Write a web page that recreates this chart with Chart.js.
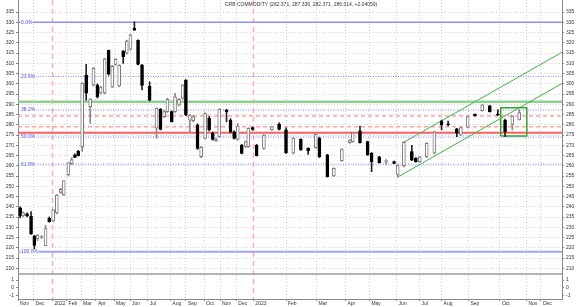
<!DOCTYPE html>
<html>
<head>
<meta charset="utf-8">
<script src="https://cdn.jsdelivr.net/npm/chart.js@4.4.1/dist/chart.umd.min.js"></script>
<style>
  html, body { margin: 0; padding: 0; background: #fff; }
</style>
</head>
<body>
<canvas id="chart" width="580" height="307"></canvas>
<script>
// candle slot positions (x axis units) and OHLC values
const candleX = [0.6, 1.4, 2.5, 3.6, 4.5, 5.4, 6.5, 7.6, 8.6, 9.7, 10.7, 11.8, 12.6, 13.9, 14.8, 15.7, 16.6,
  17.7, 18.8, 19.9, 20.8, 21.9, 22.8, 23.9, 25.0, 26.0, 26.9, 27.9, 29.0, 30.0, 31.0, 32.1, 33.1, 34.2, 36.3,
  38.2, 39.3, 40.3, 41.2, 42.4, 43.3, 44.4, 45.4, 46.3, 47.4, 48.3, 49.5, 50.5, 51.6, 52.7, 53.7, 54.6, 55.5,
  57.5, 58.6, 59.6, 60.6, 61.7, 62.8, 63.5, 64.7, 65.8, 67.8, 70.0, 72.0, 73.9, 75.9, 78.0, 80.0, 82.1, 83.1,
  85.3, 87.1, 89.3, 91.5, 92.3, 94.3, 96.4, 97.5, 99.6, 101.5, 103.7, 104.7, 106.4, 108.6, 109.7, 110.8, 112.7,
  114.8, 116.8, 118.6, 121.0, 122.1, 124.0, 126.0, 128.0, 130.1, 132.3, 134.3, 136.3, 138.2];
const opens = [239.5, 235.5, 236.5, 235.5, 225.8, 224.3, 225.0, 221.0, 234.5, 233.0, 237.0, 247.0, 245.8, 255.5, 261.0, 265.4, 267.2,
  269.3, 304.3, 288.8, 299.4, 299.4, 295.5, 295.5, 316.3, 298.5, 309.5, 299.0, 316.0, 315.0, 316.8, 327.1, 321.3, 309.2, 298.8,
  278.3, 287.6, 284.0, 286.4, 286.4, 286.4, 289.6, 292.9, 301.9, 282.3, 282.0, 279.9, 264.5, 273.4, 283.2, 275.9, 272.2, 274.2,
  287.2, 282.3, 276.6, 272.9, 270.1, 269.3, 269.3, 278.6, 270.0, 268.5, 277.5, 280.4, 277.5, 266.1, 272.9, 268.5, 268.8, 273.4,
  265.3, 255.0, 262.5, 271.3, 271.8, 277.0, 271.8, 266.1, 264.4, 262.0, 262.0, 255.5, 260.0, 266.9, 263.7, 262.0, 264.4,
  266.1, 282.0, 280.2, 278.0, 275.0, 278.8, 285.1, 286.9, 289.3, 284.9, 282.3, 280.2, 282.371];
const highs = [240.0, 237.5, 237.0, 237.6, 226.0, 226.5, 226.0, 231.0, 235.0, 238.5, 246.0, 249.0, 252.7, 261.5, 264.0, 265.8, 267.5,
  300.5, 309.5, 292.8, 308.0, 300.0, 298.8, 312.5, 316.5, 309.0, 312.3, 309.3, 316.3, 321.3, 324.2, 330.3, 321.5, 309.5, 301.0,
  288.3, 288.0, 287.0, 293.0, 286.8, 295.4, 292.8, 299.6, 302.0, 285.0, 284.5, 280.5, 269.5, 285.8, 284.0, 276.5, 273.5, 287.8,
  287.6, 283.0, 277.0, 280.5, 270.5, 272.0, 278.5, 279.0, 270.5, 275.2, 279.2, 281.0, 278.5, 273.6, 273.2, 268.8, 275.6, 274.0,
  265.6, 259.0, 268.4, 272.8, 276.3, 279.4, 272.0, 266.5, 264.6, 263.0, 262.3, 260.6, 271.8, 270.0, 264.0, 264.6, 271.2,
  276.8, 282.3, 281.8, 278.3, 278.8, 284.2, 285.3, 289.9, 289.5, 287.3, 282.8, 284.5, 287.336];
const lows = [234.6, 235.0, 235.0, 226.5, 218.6, 223.5, 224.5, 221.0, 232.5, 232.7, 236.5, 246.5, 245.5, 255.0, 260.5, 264.0, 264.8,
  267.0, 292.0, 280.7, 298.8, 293.0, 295.0, 295.0, 304.2, 298.2, 309.0, 298.6, 310.0, 314.5, 316.5, 326.0, 309.2, 297.0, 291.6,
  273.4, 277.5, 283.5, 286.0, 281.3, 286.0, 289.2, 292.5, 284.5, 276.6, 281.5, 268.0, 264.0, 273.0, 277.0, 272.5, 271.8, 274.0,
  281.5, 276.0, 273.0, 272.5, 265.8, 269.0, 269.0, 277.3, 264.8, 268.0, 277.2, 277.5, 266.0, 265.8, 267.5, 265.5, 268.5, 264.0,
  254.5, 254.8, 262.3, 271.0, 271.5, 271.0, 265.0, 257.1, 261.3, 260.5, 261.0, 254.5, 259.5, 262.5, 261.8, 261.8, 264.0,
  265.8, 277.5, 279.5, 274.2, 274.8, 278.5, 284.2, 286.7, 286.2, 284.5, 274.2, 277.5, 282.371];
const closes = [235.5, 237.0, 235.5, 226.7, 221.2, 226.2, 225.5, 229.4, 232.7, 238.5, 245.7, 248.5, 252.7, 261.4, 263.0, 264.1, 264.8,
  300.2, 295.4, 292.6, 307.6, 293.7, 298.4, 312.2, 304.7, 308.5, 312.0, 309.0, 313.2, 320.8, 323.8, 326.2, 309.5, 299.2, 292.0,
  288.0, 277.8, 286.4, 292.4, 281.5, 293.7, 292.4, 299.4, 284.8, 284.8, 284.0, 268.5, 269.0, 285.6, 277.5, 272.9, 273.0, 287.6,
  286.4, 276.6, 273.4, 279.4, 266.0, 271.8, 278.3, 277.8, 265.0, 275.0, 279.1, 277.8, 266.4, 273.4, 267.7, 267.4, 275.4, 264.4,
  254.7, 258.8, 268.2, 272.6, 276.1, 271.3, 265.3, 262.0, 261.5, 262.2, 261.2, 260.4, 271.5, 262.8, 262.0, 264.4, 271.0,
  276.6, 279.9, 280.0, 275.9, 278.6, 284.0, 284.4, 289.7, 286.4, 284.7, 276.6, 284.3, 286.014];

const priceTicks = [210, 215, 220, 225, 230, 235, 240, 245, 250, 255, 260, 265, 270, 275, 280, 285, 290, 295,
  300, 305, 310, 315, 320, 325, 330, 335];
const panelTicks = [-1, 0, 1];
const monthPos = [0, 4.3, 9.5, 13.4, 17.4, 21.5, 26.5, 30.9, 35.8, 42.0, 46.3, 51.3, 55.7, 60.2,
  64.9, 73.9, 82.3, 90.3, 96.9, 104.4, 110.7, 116.8, 124.2, 132.9, 140.2, 144.2];
const monthLabels = ['Nov', 'Dec', '2022', 'Feb', 'Mar', 'Apr', 'May', 'Jun', 'Jul', 'Aug', 'Sep', 'Oct', 'Nov', 'Dec',
  '2023', 'Feb', 'Mar', 'Apr', 'May', 'Jun', 'Jul', 'Aug', 'Sep', 'Oct', 'Nov', 'Dec'];
const yearLines = [9.5, 64.9];

const fibLevels = [330.0, 303.6, 287.2, 274.0, 260.8, 218.1];
const fibLabels = ['0.0%', '23.6%', '38.2%', '50.0%', '61.8%', '100.0%'];
const greenLevel = 291.3;
const redLevel = 276.1;
const redDashLevels = [284.3, 279.1];
const channelUpper = [[106.2, 271.3], [150, 315.4]];
const channelLower = [[104.6, 254.4], [150, 300.2]];
const boxX = [133.1, 140.3];
const boxY = [274.5, 288.3];
const titleText = 'CRB COMMODITY (282.371, 287.336, 282.371, 286.014, +2.04059)';

Chart.defaults.font.family = '"Liberation Sans", Arial, sans-serif';
Chart.defaults.font.size = 5;
Chart.defaults.color = '#333';

const isUp = i => closes[i] >= opens[i];

function hline(v, color, width, dash) {
  return {
    type: 'line', yAxisID: 'y',
    data: [{x: 0, y: v}, {x: 150, y: v}],
    borderColor: color, borderWidth: width, borderDash: dash || [],
    pointRadius: 0, fill: false
  };
}
function seg(pts, color, width) {
  return {
    type: 'line', yAxisID: 'y',
    data: pts.map(p => ({x: p[0], y: p[1]})),
    borderColor: color, borderWidth: width,
    pointRadius: 0, fill: false, tension: 0
  };
}

const datasets = [
  {
    type: 'bar', yAxisID: 'y', grouped: false,
    data: candleX.map((x, i) => ({x: x, y: [opens[i], closes[i]]})),
    backgroundColor: c => isUp(c.dataIndex) ? '#ffffff' : '#000000',
    borderColor: c => isUp(c.dataIndex) ? '#7a7a7a' : '#000000',
    borderWidth: 1, borderSkipped: false, barThickness: 3, minBarLength: 1
  },
  {
    type: 'bar', yAxisID: 'y', grouped: false,
    data: candleX.map((x, i) => ({x: x, y: [lows[i], highs[i]]})),
    backgroundColor: c => isUp(c.dataIndex) ? '#8a8a8a' : '#222222',
    borderWidth: 0, barThickness: 1
  },
  seg(channelUpper, '#3cb43c', 1),
  seg(channelLower, '#3cb43c', 1),
  seg([[boxX[0], boxY[0]], [boxX[1], boxY[0]], [boxX[1], boxY[1]], [boxX[0], boxY[1]], [boxX[0], boxY[0]]], '#2fa52f', 1.5),
  hline(redLevel, '#ff5e5e', 2),
  hline(redDashLevels[0], '#ffa3a3', 1.5, [4, 3]),
  hline(redDashLevels[1], '#ffa3a3', 1.5, [4, 3]),
  hline(greenLevel, '#8fd28f', 2.5),
  hline(fibLevels[0], '#8f8ff5', 1.5),
  hline(fibLevels[5], '#a3a3f7', 2),
  hline(fibLevels[1], '#8080ff', 1, [1, 1.5]),
  hline(fibLevels[2], '#8080ff', 1, [1, 1.5]),
  hline(fibLevels[3], '#8080ff', 1, [1, 1.5]),
  hline(fibLevels[4], '#8080ff', 1, [1, 1.5])
];

function fixWidth(w) {
  return function (scale) {
    scale.width = w;
    scale.paddingTop = 0; scale.paddingBottom = 0; scale.paddingLeft = 0; scale.paddingRight = 0;
  };
}
function useTicks(list) {
  return function (scale) { scale.ticks = list.map(v => ({value: v})); };
}

const priceMin = 207.2, priceMax = 340.9;
const panelMin = -1.42, panelMax = 1.77;

const markPlugin = {
  id: 'marks',
  beforeDatasetsDraw(chart) {
    const {ctx, chartArea, scales} = chart;
    ctx.save();
    ctx.strokeStyle = '#ffadad';
    ctx.lineWidth = 1.5;
    ctx.setLineDash([5, 4]);
    yearLines.forEach(v => {
      const px = Math.round(scales.x.getPixelForValue(v)) + 0.5;
      ctx.beginPath();
      ctx.moveTo(px, chartArea.top);
      ctx.lineTo(px, chartArea.bottom);
      ctx.stroke();
    });
    ctx.setLineDash([]);
    ctx.strokeStyle = '#9a9a9a';
    ctx.lineWidth = 1.5;
    const sep = scales.p.top;
    ctx.beginPath();
    ctx.moveTo(chartArea.left, sep);
    ctx.lineTo(chartArea.right, sep);
    ctx.stroke();
    ctx.restore();
  },
  afterDatasetsDraw(chart) {
    const {ctx, scales} = chart;
    ctx.save();
    ctx.font = '5px "Liberation Sans", Arial, sans-serif';
    ctx.textBaseline = 'middle';
    fibLevels.forEach((v, i) => {
      const px = scales.x.getPixelForValue(0) + 3;
      const py = scales.y.getPixelForValue(v);
      const w = ctx.measureText(fibLabels[i]).width;
      ctx.fillStyle = '#ffffff';
      ctx.fillRect(px - 0.5, py - 2.5, w + 1, 5);
      ctx.fillStyle = '#4646f0';
      ctx.fillText(fibLabels[i], px, py);
    });
    ctx.fillStyle = '#333';
    ctx.textAlign = 'left';
    ctx.fillText(titleText, 225, 4.5);
    ctx.restore();
  }
};

new Chart(document.getElementById('chart'), {
  type: 'bar',
  data: {datasets: datasets},
  plugins: [markPlugin],
  options: {
    responsive: false,
    animation: false,
    layout: {padding: 0},
    plugins: {legend: {display: false}, tooltip: {enabled: false}, title: {display: false}},
    scales: {
      x: {
        type: 'linear', min: 0, max: 150, offset: false,
        afterBuildTicks: useTicks(monthPos),
        afterFit(scale) { scale.height = 8; scale.paddingLeft = 0; scale.paddingRight = 0; },
        ticks: {
          autoSkip: false, maxRotation: 0, align: 'start', padding: 0, labelOffset: 2,
          callback: (v, i) => monthLabels[i]
        },
        grid: {
          offset: false, tickLength: 2, tickColor: '#888',
          color: c => (c.tick && yearLines.includes(c.tick.value)) ? 'rgba(0,0,0,0)' : '#d0d0d0'
        },
        border: {color: '#888', width: 1, dash: [1, 2]}
      },
      p: {
        type: 'linear', position: 'left', stack: 'L', stackWeight: 25,
        min: panelMin, max: panelMax,
        afterBuildTicks: useTicks(panelTicks),
        afterFit: fixWidth(18),
        ticks: {padding: 2, autoSkip: false},
        grid: {drawOnChartArea: false, tickLength: 2, tickColor: '#888'},
        border: {color: '#888', width: 1}
      },
      y: {
        type: 'linear', position: 'left', stack: 'L', stackWeight: 274,
        min: priceMin, max: priceMax, beginAtZero: false,
        afterBuildTicks: useTicks(priceTicks),
        afterFit: fixWidth(18),
        ticks: {padding: 2, autoSkip: false},
        grid: {color: '#d4d4d4', tickLength: 2, tickColor: '#888'},
        border: {color: '#888', width: 1, dash: [1, 2]}
      },
      yR: {
        type: 'linear', position: 'right', stack: 'R', stackWeight: 274,
        min: priceMin, max: priceMax,
        afterBuildTicks: useTicks(priceTicks),
        afterFit: fixWidth(18),
        ticks: {padding: 2, autoSkip: false},
        grid: {drawOnChartArea: false, tickLength: 2, tickColor: '#888'},
        border: {color: '#888', width: 1}
      },
      pR: {
        type: 'linear', position: 'right', stack: 'R', stackWeight: 25,
        min: panelMin, max: panelMax,
        afterBuildTicks: useTicks(panelTicks),
        afterFit: fixWidth(18),
        ticks: {padding: 2, autoSkip: false},
        grid: {drawOnChartArea: false, tickLength: 2, tickColor: '#888'},
        border: {color: '#888', width: 1}
      }
    }
  }
});
</script>
</body>
</html>
